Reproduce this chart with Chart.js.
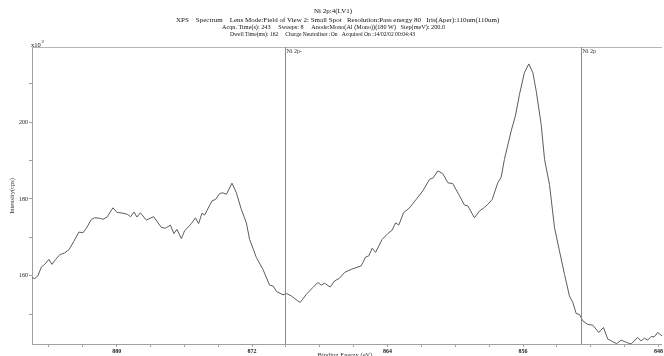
<!DOCTYPE html>
<html>
<head>
<meta charset="utf-8">
<script src="https://cdn.jsdelivr.net/npm/chart.js@4.4.0/dist/chart.umd.min.js"></script>
<style>
  html, body { margin: 0; padding: 0; background: #fff; }
  #wrap { width: 664px; height: 356px; }
</style>
</head>
<body>
<div id="wrap"><canvas id="xpsChart"></canvas></div>
<script>
// Binding energy (eV) and intensity (x10^2 cps)
const bindingEnergy = [
  885.04, 884.84, 884.65, 884.45, 884.25, 884.0, 883.82, 883.6, 883.36, 883.07,
  882.82, 882.54, 882.23, 881.99, 881.79, 881.49, 881.3, 881.0, 880.81, 880.57,
  880.22, 879.98, 879.63, 879.37, 879.17, 878.98, 878.8, 878.6, 878.25, 877.82,
  877.36, 877.11, 876.83, 876.62, 876.44, 876.18, 875.99, 875.59, 875.35, 875.16,
  874.96, 874.81, 874.37, 874.16, 873.92, 873.73, 873.52, 873.19, 872.93, 872.64,
  872.34, 872.15, 871.75, 871.36, 870.97, 870.77, 870.54, 870.18, 869.95, 869.69,
  869.3, 869.16, 868.8, 868.41, 868.12, 867.92, 867.72, 867.39, 867.13, 866.84,
  866.54, 866.15, 865.56, 865.3, 865.11, 864.91, 864.71, 864.32, 863.98, 863.73,
  863.53, 863.34, 863.06, 862.7, 862.31, 861.92, 861.52, 861.33, 861.03, 860.74,
  860.44, 860.15, 859.75, 859.46, 859.26, 858.87, 858.57, 858.34, 858.08, 857.82,
  857.49, 857.29, 857.1, 856.7, 856.45, 856.21, 855.92, 855.66, 855.42, 855.22,
  854.93, 854.73, 854.44, 854.14, 853.85, 853.55, 853.26, 853.06, 852.86, 852.67,
  852.47, 852.18, 851.88, 851.53, 851.25, 851.0, 850.7, 850.47, 850.21, 849.88,
  849.62, 849.23, 849.03, 848.83, 848.64, 848.44, 848.24, 848.05, 847.79
];
const intensity = [
  159.6, 159.3, 160.0, 162.3, 163.0, 164.3, 163.0, 164.3, 165.5, 166.0,
  166.8, 168.9, 171.4, 171.2, 172.4, 174.7, 175.1, 175.0, 174.7, 175.3,
  177.7, 176.5, 176.3, 176.0, 175.4, 176.6, 175.3, 176.4, 174.5, 175.4,
  172.6, 172.4, 173.2, 171.0, 172.1, 169.7, 171.7, 173.6, 175.1, 173.6,
  176.3, 175.8, 179.5, 179.9, 181.4, 181.6, 181.2, 184.1, 181.6, 177.3,
  173.8, 169.5, 164.8, 161.7, 157.6, 157.4, 155.9, 155.1, 155.4, 154.8,
  153.5, 153.1, 155.2, 157.0, 158.3, 157.6, 158.1, 157.1, 158.7, 159.4,
  160.9, 161.7, 162.6, 164.9, 165.2, 167.2, 166.1, 169.5, 171.0, 171.9,
  173.8, 173.2, 176.4, 177.7, 179.9, 182.1, 185.1, 185.4, 187.3, 186.6,
  184.2, 184.0, 180.8, 178.4, 178.2, 175.1, 176.9, 177.6, 178.6, 179.9,
  184.2, 185.7, 190.3, 197.7, 201.6, 207.2, 212.8, 215.1, 212.8, 208.0,
  199.4, 190.3, 183.8, 172.5, 166.5, 160.4, 154.8, 153.1, 150.2, 150.0,
  148.3, 147.4, 147.2, 145.3, 146.6, 143.6, 142.9, 142.4, 143.3, 142.7,
  142.3, 144.0, 143.1, 143.8, 143.3, 144.2, 144.2, 145.3, 144.4
];
const xTickLabels = [880, 872, 864, 856, 848];
const yTickLabels = [160, 180, 200];
const markerEnergy = [870.07, 852.57];
const markerLabels = ['Ni 2p-', 'Ni 2p'];
const headerLines = [
  'Ni 2p:4(LV1)',
  'XPS    Spectrum    Lens Mode:Field of View 2: Small Spot   Resolution:Pass energy 80   Iris(Aper):110um(110um)',
  'Acqn. Time(s): 243     Sweeps: 8     Anode:Mono(Al (Mono))(180 W)   Step(meV): 200.0',
  'Dwell Time(ms): 162     Charge Neutraliser :On   Acquired On :14/02/02 00:04:43'
];

const SERIF = '"Liberation Serif", "DejaVu Serif", serif';

// header, marker lines, axis captions
const annotations = {
  id: 'annotations',
  afterDraw(chart) {
    const ctx = chart.ctx;
    const area = chart.chartArea;
    const xs = chart.scales.x;
    ctx.save();

    // top frame line
    ctx.strokeStyle = '#b5b5b5';
    ctx.lineWidth = 1;
    ctx.beginPath();
    ctx.moveTo(area.left, area.top + 0.5);
    ctx.lineTo(area.right, area.top + 0.5);
    ctx.stroke();

    // peak marker lines
    ctx.strokeStyle = '#8a8a8a';
    ctx.fillStyle = '#333';
    ctx.font = '6px ' + SERIF;
    ctx.textAlign = 'left';
    ctx.textBaseline = 'middle';
    markerEnergy.forEach((e, i) => {
      const px = Math.round(xs.getPixelForValue(e)) + 0.5;
      ctx.beginPath();
      ctx.moveTo(px, area.top);
      ctx.lineTo(px, area.bottom);
      ctx.stroke();
      ctx.fillText(markerLabels[i], px + 1, area.top + 4);
    });

    // header text
    ctx.fillStyle = '#111';
    ctx.textBaseline = 'middle';
    ctx.textAlign = 'center';
    ctx.font = '7px ' + SERIF;
    ctx.fillText(headerLines[0], 333, 11);
    ctx.textAlign = 'left';
    ctx.fillText(headerLines[1], 176, 20, 339);
    ctx.fillText(headerLines[2], 222, 27.5, 223);
    ctx.fillText(headerLines[3], 230, 34.5, 185);

    // exponent label
    ctx.font = '6.5px ' + SERIF;
    ctx.textBaseline = 'alphabetic';
    ctx.fillText('x10', 31, 47);
    ctx.font = '5px ' + SERIF;
    ctx.fillText('2', 41.5, 43);

    // axis captions
    ctx.fillStyle = '#333';
    ctx.font = '6.5px ' + SERIF;
    ctx.textAlign = 'center';
    ctx.textBaseline = 'top';
    ctx.fillText('Binding Energy (eV)', 345, 352);
    ctx.translate(12, 196);
    ctx.rotate(-Math.PI / 2);
    ctx.textBaseline = 'middle';
    ctx.fillText('Intensity(cps)', 0, 0);

    ctx.restore();
  }
};

new Chart(document.getElementById('xpsChart').getContext('2d'), {
  type: 'line',
  data: {
    datasets: [{
      data: bindingEnergy.map((e, i) => ({ x: e, y: intensity[i] })),
      borderColor: '#5c5c5c',
      borderWidth: 1,
      pointRadius: 0,
      tension: 0,
      fill: false
    }]
  },
  options: {
    responsive: true,
    maintainAspectRatio: false,
    animation: false,
    layout: { padding: { top: 47, left: 0, right: 0, bottom: 0 } },
    plugins: {
      legend: { display: false },
      tooltip: { enabled: false }
    },
    scales: {
      x: {
        type: 'linear',
        reverse: true,
        min: 847.8,
        max: 885,
        border: { color: '#a0a0a0' },
        grid: { drawOnChartArea: false, tickLength: 3, color: '#a0a0a0' },
        ticks: {
          stepSize: 2,
          includeBounds: false,
          autoSkip: false,
          maxRotation: 0,
          padding: 1,
          color: '#222',
          font: { family: SERIF, size: 6, weight: 'bold' },
          callback: v => xTickLabels.includes(v) ? String(v) : ''
        },
        afterFit: s => { s.height = 12; }
      },
      y: {
        min: 142.3,
        max: 219.5,
        border: { color: '#a0a0a0' },
        grid: { drawOnChartArea: false, tickLength: 3, color: '#a0a0a0' },
        ticks: {
          stepSize: 10,
          includeBounds: false,
          autoSkip: false,
          padding: 1,
          color: '#222',
          font: { family: SERIF, size: 6 },
          callback: v => yTickLabels.includes(v) ? String(v) : ''
        },
        afterFit: s => { s.width = 32; }
      }
    }
  },
  plugins: [annotations]
});
</script>
</body>
</html>
